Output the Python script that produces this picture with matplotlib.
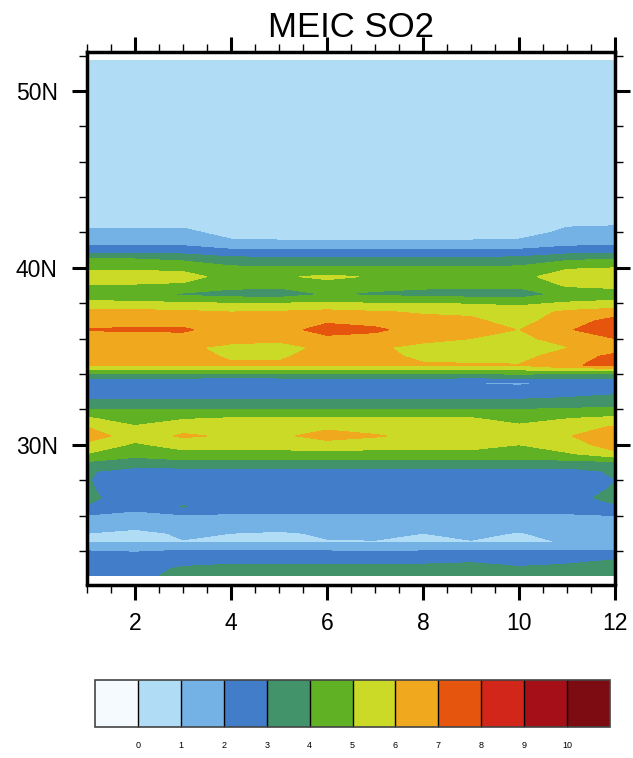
import numpy as np
import matplotlib
matplotlib.use("Agg")
import matplotlib.pyplot as plt

plt.rcParams["font.family"] = ["Liberation Sans", "DejaVu Sans"]

# months on x, latitude rows on y (top row first)
months = np.arange(1, 13)
lats = [51.7, 42.5, 42.0, 41.5, 41.0, 40.5, 40.0, 39.5, 39.0, 38.5, 38.0,
        37.5, 37.0, 36.5, 36.0, 35.5, 35.0, 34.5, 34.0, 33.5, 33.0, 32.5,
        32.0, 31.5, 31.0, 30.5, 30.0, 29.5, 29.0, 28.5, 28.0, 27.5, 27.0,
        26.5, 26.0, 25.5, 25.0, 24.5, 24.0, 23.5, 23.0, 22.6]
so2 = [
    [0.5] * 12,
    [0.8, 0.8, 0.8, 0.5, 0.5, 0.5, 0.5, 0.5, 0.5, 0.5, 0.9, 0.9],
    [1.2, 1.2, 1.2, 0.7, 0.7, 0.7, 0.7, 0.7, 0.7, 0.7, 1.15, 1.3],
    [1.6, 1.6, 1.6, 1.1, 1.05, 1.05, 1.05, 1.05, 1.05, 1.1, 1.5, 1.6],
    [2.5, 2.5, 2.4, 2.1, 2.05, 2.05, 2.05, 2.05, 2.05, 2.1, 2.4, 2.5],
    [4.0, 4.0, 3.8, 3.3, 3.2, 3.2, 3.2, 3.2, 3.2, 3.3, 3.8, 4.0],
    [4.8, 4.8, 4.7, 4.2, 4.1, 4.1, 4.1, 4.1, 4.1, 4.2, 4.9, 5.0],
    [5.5, 5.5, 5.4, 4.6, 4.85, 5.2, 4.9, 4.6, 4.6, 4.7, 5.5, 5.6],
    [4.9, 4.9, 4.8, 4.3, 4.2, 4.6, 4.3, 4.2, 4.2, 4.2, 5.1, 5.2],
    [4.5, 4.3, 3.85, 3.6, 3.5, 4.05, 3.85, 3.7, 3.6, 3.5, 4.3, 4.6],
    [5.2, 5.2, 5.1, 5.0, 5.0, 5.1, 5.0, 5.0, 4.9, 4.8, 5.1, 5.2],
    [6.4, 6.3, 6.2, 6.0, 6.1, 6.3, 6.1, 5.9, 5.8, 5.5, 6.2, 6.6],
    [6.7, 6.7, 6.6, 6.4, 6.4, 6.8, 6.6, 6.3, 6.2, 5.6, 6.6, 7.3],
    [7.05, 7.1, 7.15, 6.5, 6.5, 7.5, 7.2, 6.5, 6.3, 5.98, 6.9, 7.6],
    [6.6, 6.6, 6.6, 6.3, 6.2, 6.7, 6.6, 6.3, 6.0, 5.7, 6.5, 7.0],
    [6.4, 6.4, 6.15, 5.8, 5.7, 6.2, 6.15, 5.7, 5.5, 5.4, 5.95, 6.6],
    [6.4, 6.4, 6.3, 5.9, 5.9, 6.3, 6.3, 5.8, 5.6, 5.6, 6.6, 7.2],
    [6.1, 6.1, 6.1, 6.1, 6.1, 6.1, 6.1, 6.1, 6.1, 6.05, 6.95, 7.1],
    [3.8, 3.8, 3.8, 3.8, 3.8, 3.8, 3.8, 3.8, 3.8, 4.1, 3.8, 3.9],
    [2.3, 2.3, 2.1, 1.95, 2.05, 2.3, 2.3, 2.2, 1.97, 1.85, 2.2, 2.3],
    [2.4, 2.4, 2.4, 2.4, 2.4, 2.4, 2.4, 2.4, 2.4, 2.4, 2.6, 2.8],
    [3.1, 3.1, 3.1, 3.1, 3.1, 3.1, 3.1, 3.1, 3.1, 3.1, 3.2, 3.4],
    [4.0, 4.0, 4.0, 4.0, 4.0, 4.0, 4.0, 4.0, 4.0, 4.0, 4.1, 4.2],
    [5.1, 4.5, 4.9, 5.05, 5.05, 5.05, 5.05, 5.05, 5.05, 4.6, 4.95, 5.2],
    [6.0, 5.1, 5.6, 5.5, 5.5, 5.8, 5.5, 5.5, 5.5, 5.2, 5.6, 6.1],
    [6.6, 5.4, 6.15, 5.85, 5.8, 6.4, 6.1, 5.7, 5.7, 5.3, 5.9, 6.8],
    [5.7, 4.85, 5.4, 5.4, 5.4, 5.6, 5.4, 5.4, 5.4, 5.0, 5.6, 6.4],
    [5.0, 4.3, 4.7, 4.7, 4.7, 4.7, 4.7, 4.7, 4.7, 4.5, 4.9, 5.8],
    [3.9, 3.6, 3.7, 3.7, 3.7, 3.7, 3.7, 3.7, 3.7, 3.7, 3.7, 3.8],
    [3.1, 2.6, 2.6, 2.6, 2.6, 2.6, 2.6, 2.6, 2.6, 2.6, 2.6, 3.15],
    [3.05, 2.5, 2.5, 2.5, 2.5, 2.5, 2.5, 2.5, 2.5, 2.5, 2.5, 2.98],
    [3.1, 2.5, 2.5, 2.5, 2.5, 2.5, 2.5, 2.5, 2.5, 2.5, 2.5, 3.1],
    [3.2, 2.5, 2.6, 2.5, 2.5, 2.5, 2.5, 2.5, 2.5, 2.5, 2.7, 3.25],
    [2.95, 2.3, 3.05, 2.4, 2.4, 2.4, 2.4, 2.4, 2.4, 2.4, 2.4, 2.9],
    [1.95, 1.7, 1.9, 1.9, 1.9, 1.9, 1.9, 1.9, 1.9, 1.9, 1.9, 2.0],
    [1.5, 1.4, 1.5, 1.45, 1.4, 1.5, 1.55, 1.45, 1.55, 1.4, 1.6, 1.7],
    [1.0, 0.7, 1.15, 1.0, 0.9, 1.1, 1.2, 1.0, 1.2, 0.95, 1.3, 1.4],
    [0.95, 0.9, 0.95, 0.95, 0.95, 0.95, 0.95, 0.95, 0.95, 0.9, 1.03, 1.3],
    [2.0, 1.9, 2.05, 2.05, 2.0, 2.0, 1.9, 2.0, 2.0, 2.0, 2.0, 2.0],
    [2.5, 2.6, 2.7, 2.8, 2.8, 2.8, 2.8, 2.8, 2.9, 2.7, 2.8, 3.0],
    [2.6, 2.7, 3.1, 3.2, 3.2, 3.2, 3.2, 3.2, 3.2, 3.1, 3.2, 3.3],
    [2.7, 2.8, 3.2, 3.3, 3.3, 3.3, 3.3, 3.3, 3.3, 3.3, 3.3, 3.4],
]
levels = np.arange(-1, 12)
colors = ['#f5fafe', '#b0dcf5', '#74b2e6', '#417dc8', '#42926a', '#60b224',
          '#cada26', '#f0a81e', '#e6550e', '#d2261a', '#a50f17', '#7c0c12']
ytick_vals = [30, 40, 50]
ytick_labels = ['30N', '40N', '50N']
cbar_ticks = list(range(0, 11))

fig = plt.figure(figsize=(6.33, 7.58), dpi=100)
ax = fig.add_axes([87 / 633, 1 - 584.5 / 758, 528 / 633, 532.5 / 758])

lat_arr = np.array(lats)[::-1]
z = np.array(so2)[::-1]
cf = ax.contourf(months, lat_arr, z, levels=levels, colors=colors)

ax.set_xlim(1, 12)
ax.set_ylim(22.1, 52.2)
ax.set_xticks(range(2, 13, 2))
ax.set_xticks(np.arange(1, 12.01, 0.5), minor=True)
ax.set_yticks(ytick_vals, labels=ytick_labels)
ax.set_yticks(np.arange(24, 53, 2), minor=True)

ax.tick_params(which='both', direction='out', top=True, right=True)
ax.tick_params(which='major', length=11, width=2.2, labelsize=16.5)
ax.tick_params(which='minor', length=5.5, width=1)
ax.tick_params(axis='x', pad=8.5)
ax.tick_params(axis='y', pad=10)
for s in ax.spines.values():
    s.set_linewidth(2.5)

fig.text(351 / 633, 1 - 37 / 758, 'MEIC SO2', ha='center', va='baseline',
         fontsize=25)

# label bar
cax = fig.add_axes([95 / 633, 1 - 727 / 758, 515 / 633, 47 / 758])
cb = fig.colorbar(cf, cax=cax, orientation='horizontal', ticks=cbar_ticks,
                  drawedges=True)
cb.ax.tick_params(length=0, pad=10, labelsize=6.5)
cb.outline.set_linewidth(1.2)
cb.outline.set_edgecolor('#444444')
cb.dividers.set_color('black')
cb.dividers.set_linewidth(1)

fig.savefig('out.png', dpi=100)
